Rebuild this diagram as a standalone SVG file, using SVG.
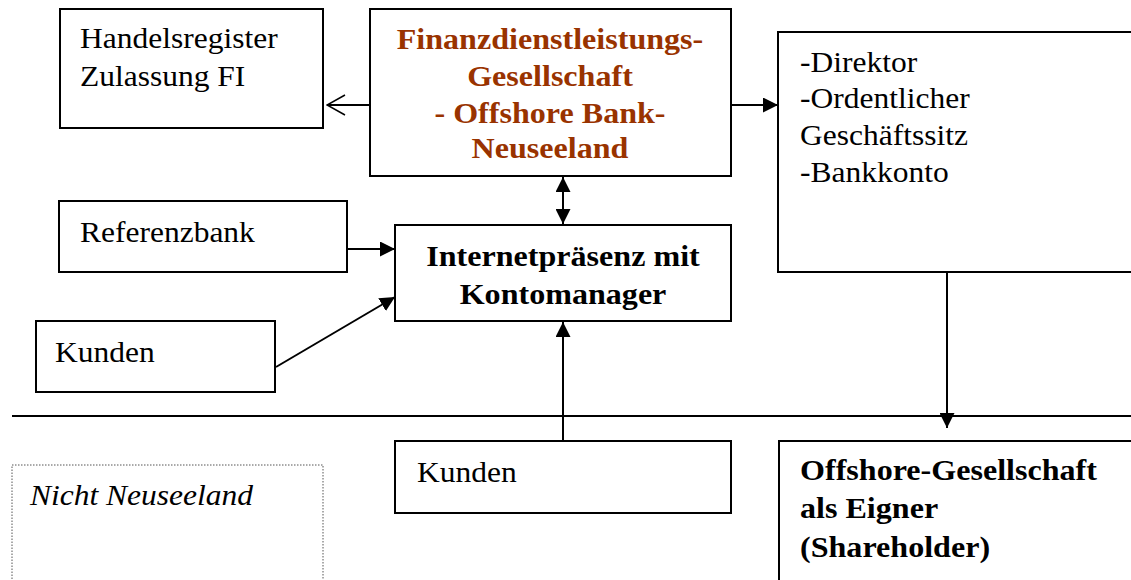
<svg xmlns="http://www.w3.org/2000/svg" width="1131" height="580" viewBox="0 0 1131 580">
<style>
.box{fill:#fff;stroke:#000;stroke-width:2}
.t{font-family:"Liberation Serif","Times New Roman",serif;font-size:30px;fill:#000}
.b{font-weight:bold}
.c{text-anchor:middle}
.red{fill:#993300}
.ln{stroke:#000;stroke-width:2;fill:none}
</style>
<defs>
<marker id="ah" viewBox="0 0 10 10" refX="10" refY="5" markerWidth="15" markerHeight="15" markerUnits="userSpaceOnUse" orient="auto-start-reverse">
<path d="M0,0 L10,5 L0,10 z" fill="#000"/>
</marker>
<marker id="oa" viewBox="0 0 20 22" refX="19" refY="11" markerWidth="20" markerHeight="22" markerUnits="userSpaceOnUse" orient="auto">
<path d="M1,1 L19,11 L1,21" fill="none" stroke="#000" stroke-width="1.5"/>
</marker>
</defs>
<rect x="0" y="0" width="1131" height="580" fill="#fff"/>
<line x1="12" y1="416" x2="1131" y2="416" class="ln"/>
<g id="handelsregister">
<rect class="box" x="60" y="9" width="263" height="119"/>
<text class="t" transform="translate(80,48) scale(1.05,1)">Handelsregister</text>
<text class="t" transform="translate(80,86) scale(1.05,1)">Zulassung FI</text>
</g>
<g id="finanz">
<rect class="box" x="370" y="9" width="361" height="167"/>
<text class="t b c red" transform="translate(550,49) scale(1.07,1)">Finanzdienstleistungs-</text>
<text class="t b c red" transform="translate(550,86) scale(1.07,1)">Gesellschaft</text>
<text class="t b c red" transform="translate(550,123) scale(1.07,1)">- Offshore Bank-</text>
<text class="t b c red" transform="translate(550,158) scale(1.07,1)">Neuseeland</text>
</g>
<g id="direktor">
<rect class="box" x="778" y="32" width="360" height="240"/>
<text class="t" transform="translate(800,72) scale(1.05,1)">-Direktor</text>
<text class="t" transform="translate(800,108) scale(1.05,1)">-Ordentlicher</text>
<text class="t" transform="translate(800,145) scale(1.05,1)">Geschäftssitz</text>
<text class="t" transform="translate(800,182) scale(1.05,1)">-Bankkonto</text>
</g>
<g id="referenzbank">
<rect class="box" x="59" y="201" width="288" height="71"/>
<text class="t" transform="translate(80,242) scale(1.05,1)">Referenzbank</text>
</g>
<g id="internet">
<rect class="box" x="395" y="225" width="336" height="96"/>
<text class="t b c" transform="translate(563,266) scale(1.07,1)">Internetpräsenz mit</text>
<text class="t b c" transform="translate(563,304) scale(1.07,1)">Kontomanager</text>
</g>
<g id="kunden1">
<rect class="box" x="36" y="321" width="239" height="71"/>
<text class="t" transform="translate(55,362) scale(1.05,1)">Kunden</text>
</g>
<g id="nicht">
<rect x="12" y="465" width="311" height="130" fill="none" stroke="#555" stroke-width="1" stroke-dasharray="1.5,1.5"/>
<text class="t" font-style="italic" transform="translate(30,505) scale(1.05,1)">Nicht Neuseeland</text>
</g>
<g id="kunden2">
<rect class="box" x="395" y="441" width="336" height="72"/>
<text class="t" transform="translate(417,482) scale(1.05,1)">Kunden</text>
</g>
<g id="offshore">
<rect class="box" x="779" y="441" width="360" height="150"/>
<text class="t b" transform="translate(800,480) scale(1.07,1)">Offshore-Gesellschaft</text>
<text class="t b" transform="translate(800,518) scale(1.07,1)">als Eigner</text>
<text class="t b" transform="translate(800,557) scale(1.07,1)">(Shareholder)</text>
</g>
<g id="connectors">
<line x1="370" y1="105" x2="327" y2="105" class="ln" marker-end="url(#oa)"/>
<line x1="731" y1="105" x2="778" y2="105" class="ln" marker-end="url(#ah)"/>
<line x1="563" y1="177" x2="563" y2="224" class="ln" marker-start="url(#ah)" marker-end="url(#ah)"/>
<line x1="347" y1="249" x2="395" y2="249" class="ln" marker-end="url(#ah)"/>
<line x1="276" y1="367" x2="395" y2="297" class="ln" marker-end="url(#ah)"/>
<line x1="563" y1="441" x2="563" y2="322" class="ln" marker-end="url(#ah)"/>
<line x1="947" y1="272" x2="947" y2="428" class="ln" marker-end="url(#ah)"/>
</g>
</svg>
